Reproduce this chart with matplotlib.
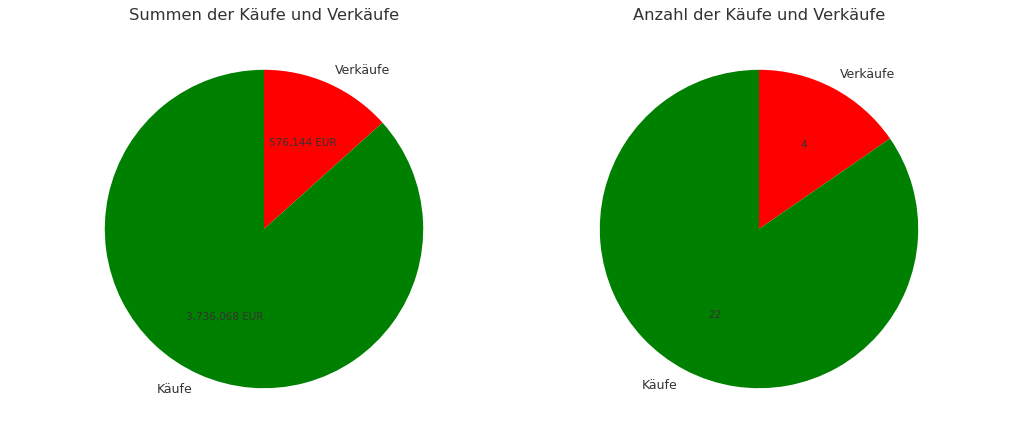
import matplotlib
matplotlib.use("Agg")
import matplotlib.pyplot as plt

labels = ["Verkäufe", "Käufe"]
summen = [576144, 3736068]
anzahl = [4, 22]
colors = ["red", "green"]
textcolor = "#333333"

fig = plt.figure(figsize=(10.24, 4.39), dpi=100)
ax1 = fig.add_axes([(264 - 199) / 1024, 10 / 439, 398 / 1024, 398 / 439])
ax2 = fig.add_axes([(759 - 199) / 1024, 10 / 439, 398 / 1024, 398 / 439])

total = sum(summen)
_, _, auto1 = ax1.pie(summen, labels=labels, colors=colors, startangle=90, counterclock=False,
                      autopct=lambda p: "{:,.0f} EUR".format(p * total / 100),
                      textprops={"color": textcolor, "fontsize": 9})
ax1.set_title("Summen der Käufe und Verkäufe", fontsize=11.7, color=textcolor, pad=8)

n = sum(anzahl)
_, _, auto2 = ax2.pie(anzahl, labels=labels, colors=colors, startangle=90, counterclock=False,
                      autopct=lambda p: "{:.0f}".format(p * n / 100),
                      textprops={"color": textcolor, "fontsize": 9})
ax2.set_title("Anzahl der Käufe und Verkäufe", fontsize=11.7, color=textcolor, pad=8)

# kleinere Schrift fuer die Werte im Kuchen
for t in list(auto1) + list(auto2):
    t.set_fontsize(7.5)

fig.savefig("out.png")
